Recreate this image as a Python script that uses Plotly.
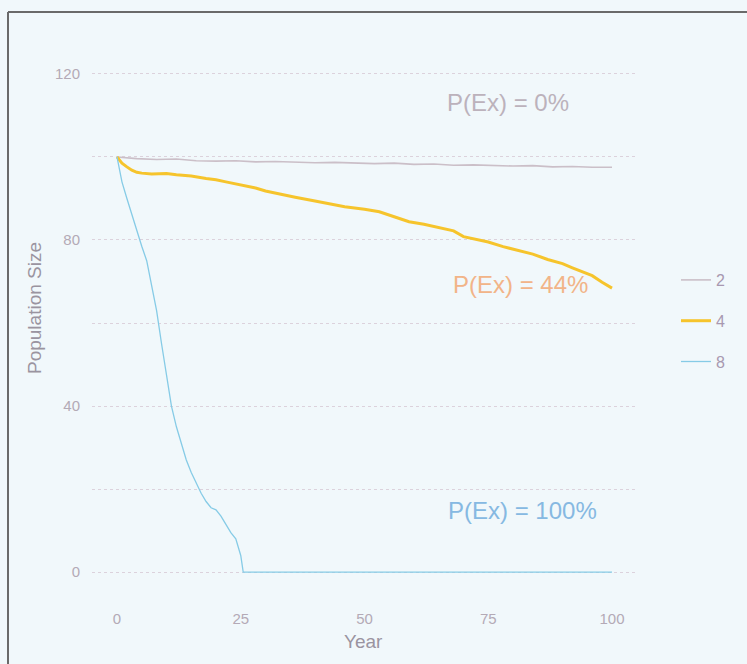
import plotly.graph_objects as go

# Simulated population trajectories for three parameter settings
years_2 = [0, 4, 8, 12, 16, 20, 24, 28, 32, 36, 40, 44, 48, 52, 56, 60, 64, 68, 72, 76, 80, 84, 88, 92, 96, 100]
pop_2 = [100, 99.6, 99.4, 99.5, 99.1, 99.0, 99.1, 98.8, 98.9, 98.7, 98.6, 98.7, 98.5,
         98.4, 98.5, 98.2, 98.3, 98.0, 98.1, 97.9, 97.8, 97.9, 97.6, 97.7, 97.5, 97.5]

years_4 = [0, 1, 2, 3, 4, 5, 7, 10, 12, 15, 18, 20, 22, 25, 28, 30, 33, 36, 40, 43, 46, 50,
           53, 56, 59, 62, 65, 68, 70, 72, 75, 78, 81, 84, 87, 90, 92, 94, 96, 98, 100]
pop_4 = [100, 98.5, 97.6, 96.8, 96.3, 96.1, 95.9, 96.0, 95.7, 95.4, 94.8, 94.5, 94.0, 93.3,
         92.5, 91.8, 91.0, 90.3, 89.4, 88.7, 88.0, 87.4, 86.8, 85.6, 84.4, 83.8, 83.0, 82.2,
         80.8, 80.3, 79.5, 78.4, 77.5, 76.6, 75.3, 74.3, 73.3, 72.4, 71.4, 69.8, 68.4]

years_8 = [0, 1, 2, 3, 4, 5, 6, 7, 8, 9, 10, 11, 12, 13, 14, 15, 16, 17, 18, 19, 20, 21, 22,
           23, 24, 25, 25.5, 30, 40, 50, 60, 70, 80, 90, 100]
pop_8 = [100, 94, 90, 86, 82.5, 78.5, 75, 69, 63, 55, 48, 40, 35, 31, 27, 24, 21.5, 19, 17,
         15.5, 15, 13.5, 11.5, 9.5, 8, 4, 0, 0, 0, 0, 0, 0, 0, 0, 0]

series_names = ["2", "4", "8"]
series_colors = ["#cbbfc8", "#f6c42c", "#86cbe6"]
series_widths = [1.6, 3, 1.3]

ext_labels = ["P(Ex) = 0%", "P(Ex) = 44%", "P(Ex) = 100%"]
ext_x = [79, 81.5, 82]
ext_y = [113, 69.2, 14.9]
ext_colors = ["#bcb2bc", "#f2b488", "#86b9e2"]

y_ticks = [0, 20, 40, 60, 80, 100, 120]
y_tick_text = ["0", "", "40", "", "80", "", "120"]
x_ticks = [0, 25, 50, 75, 100]

bg = "#f1f8fb"
label_color = "#b4aab6"

fig = go.Figure()
for i, (xs, ys) in enumerate([(years_2, pop_2), (years_4, pop_4), (years_8, pop_8)]):
    fig.add_trace(go.Scatter(
        x=xs, y=ys, mode="lines", name=series_names[i], legendgroup=series_names[i],
        line=dict(color=series_colors[i], width=series_widths[i]),
    ))

for t, x, y, c in zip(ext_labels, ext_x, ext_y, ext_colors):
    fig.add_annotation(x=x, y=y, text=t, showarrow=False,
                       font=dict(family="Liberation Sans, Arial", size=24, color=c))

# axis titles
fig.add_annotation(xref="paper", yref="paper", x=(363 - 92) / 545, y=(597 - 641) / 548,
                   xanchor="center", yanchor="middle",
                   text="Year", showarrow=False,
                   font=dict(family="Liberation Sans, Arial", size=19, color="#9a94a0"))
fig.add_annotation(xref="paper", yref="paper", x=(34 - 92) / 545, y=(597 - 308) / 548,
                   xanchor="center", yanchor="middle",
                   text="Population Size", showarrow=False, textangle=-90,
                   font=dict(family="Liberation Sans, Arial", size=19, color="#9a94a0"))

# outer frame along the top and left edges
frame = dict(color="#6a6a6a", width=2)
fig.add_shape(type="line", xref="paper", yref="paper",
              x0=(8 - 92) / 545, x1=(747 - 92) / 545, y0=(597 - 12) / 548, y1=(597 - 12) / 548,
              line=frame)
fig.add_shape(type="line", xref="paper", yref="paper",
              x0=(8 - 92) / 545, x1=(8 - 92) / 545, y0=(597 - 12) / 548, y1=(597 - 664) / 548,
              line=frame)

fig.update_layout(
    width=747, height=664,
    margin=dict(l=92, r=110, t=49, b=67),
    paper_bgcolor=bg, plot_bgcolor=bg,
    font=dict(family="Liberation Sans, Arial", color=label_color),
    showlegend=True,
    legend=dict(x=(676 - 92) / 545, xanchor="left", y=(597 - 321) / 548, yanchor="middle",
                bgcolor="rgba(0,0,0,0)", tracegroupgap=17,
                font=dict(size=16, color="#a898b0")),
    xaxis=dict(range=[-5.05, 105.05], tickvals=x_ticks, showgrid=False, zeroline=False,
               showline=False, ticks="outside", ticklen=8, tickcolor=bg,
               tickfont=dict(size=15, color=label_color)),
    yaxis=dict(range=[-6, 126], tickvals=y_ticks, ticktext=y_tick_text, showgrid=True,
               gridcolor="#dcd2dc", griddash="dot", gridwidth=1, zeroline=False,
               showline=False, ticks="outside", ticklen=8, tickcolor=bg,
               tickfont=dict(size=15, color=label_color)),
)

fig.write_html("out.html")
